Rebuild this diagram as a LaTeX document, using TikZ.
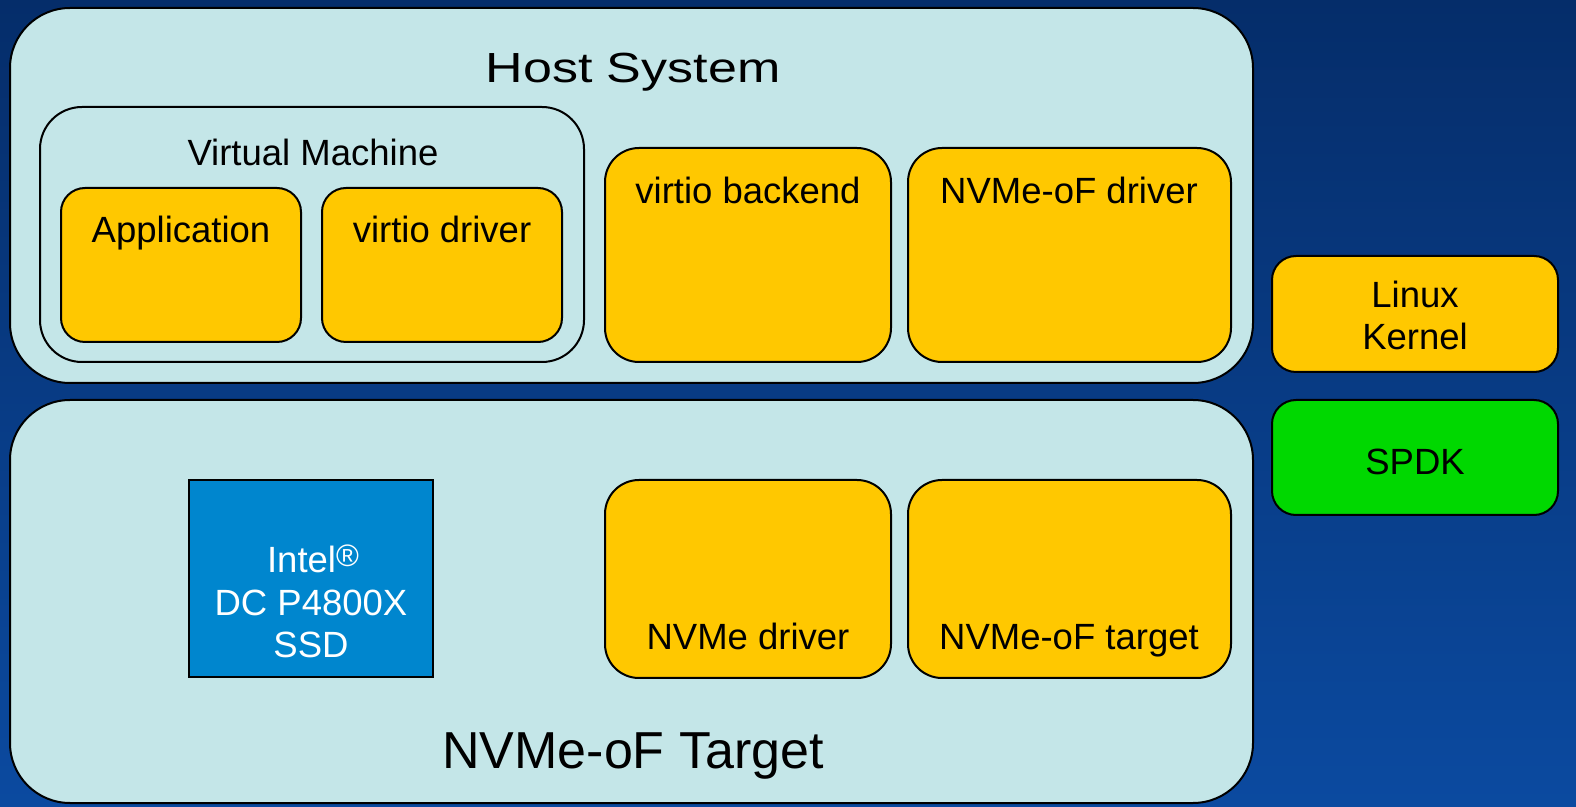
\documentclass[tikz,border=0pt]{standalone}
\usepackage{fontspec}
\setmainfont{Liberation Sans}
\definecolor{bgtop}{HTML}{052D6A}
\definecolor{bgbot}{HTML}{0B4AA0}
\definecolor{panel}{HTML}{C4E6E8}
\definecolor{gold}{HTML}{FFC800}
\definecolor{spdkgreen}{HTML}{00D800}
\definecolor{ssdblue}{HTML}{0086CE}
\begin{document}
\begin{tikzpicture}[x=0.5pt,y=-0.5pt,
  panelbox/.style={fill=panel,draw=black,line width=1pt,rounded corners=30pt},
  vmbox/.style={fill=panel,draw=black,line width=1pt,rounded corners=21pt},
  smallgold/.style={fill=gold,draw=black,line width=1pt,rounded corners=12pt},
  biggold/.style={fill=gold,draw=black,line width=1pt,rounded corners=17pt},
  sidebox/.style={draw=black,line width=1pt,rounded corners=12pt},
  ssdbox/.style={fill=ssdblue,draw=black,line width=1pt},
  lbl/.style={anchor=base,inner sep=0pt,font=\fontsize{18.25}{21}\selectfont},
  big/.style={anchor=base,inner sep=0pt,font=\fontsize{26}{30}\selectfont}]
\useasboundingbox (0,0) rectangle (1576,807);
\shade[top color=bgtop,bottom color=bgbot] (0,0) rectangle (1576,807);
% Host system
\path[panelbox] (10,8) rectangle (1253,383);
\node[big] (host) at (633,83) {\scalebox{1}[0.81]{Host System}};
\path[vmbox] (40,107) rectangle (584,362);
\node[lbl] (vm) at (313,166) {Virtual Machine};
\path[smallgold] (61,188) rectangle (301,342);
\node[lbl] (app) at (181,243) {Application};
\path[smallgold] (322,188) rectangle (562,342);
\node[lbl] (vdrv) at (442,243) {virtio driver};
\path[biggold] (605,148) rectangle (891,362);
\node[lbl] (vback) at (748,204) {virtio backend};
\path[biggold] (908,148) rectangle (1231,362);
\node[lbl] (nofdrv) at (1069,204) {NVMe-oF driver};
% Target
\path[panelbox] (10,400) rectangle (1253,803);
\node[big] (target) at (633,769) {NVMe-oF Target};
\path[ssdbox] (189,480) rectangle (433,677);
\node[lbl,text=white] (ssd1) at (313,573) {Intel\raisebox{3pt}{\fontsize{15.5}{15.5}\selectfont ®}};
\node[lbl,text=white] (ssd2) at (311,616) {DC P4800X};
\node[lbl,text=white] (ssd3) at (311,658) {SSD};
\path[biggold] (605,480) rectangle (891,678);
\node[lbl] (nvdrv) at (748,650) {NVMe driver};
\path[biggold] (908,480) rectangle (1231,678);
\node[lbl] (noftgt) at (1069,650) {NVMe-oF target};
% Legend
\path[sidebox,fill=gold] (1272,256) rectangle (1558,372);
\node[lbl] (lk1) at (1415,308) {Linux};
\node[lbl] (lk2) at (1415,350) {Kernel};
\path[sidebox,fill=spdkgreen] (1272,400) rectangle (1558,515);
\node[lbl] (spdk) at (1415,475) {SPDK};
\end{tikzpicture}
\end{document}
